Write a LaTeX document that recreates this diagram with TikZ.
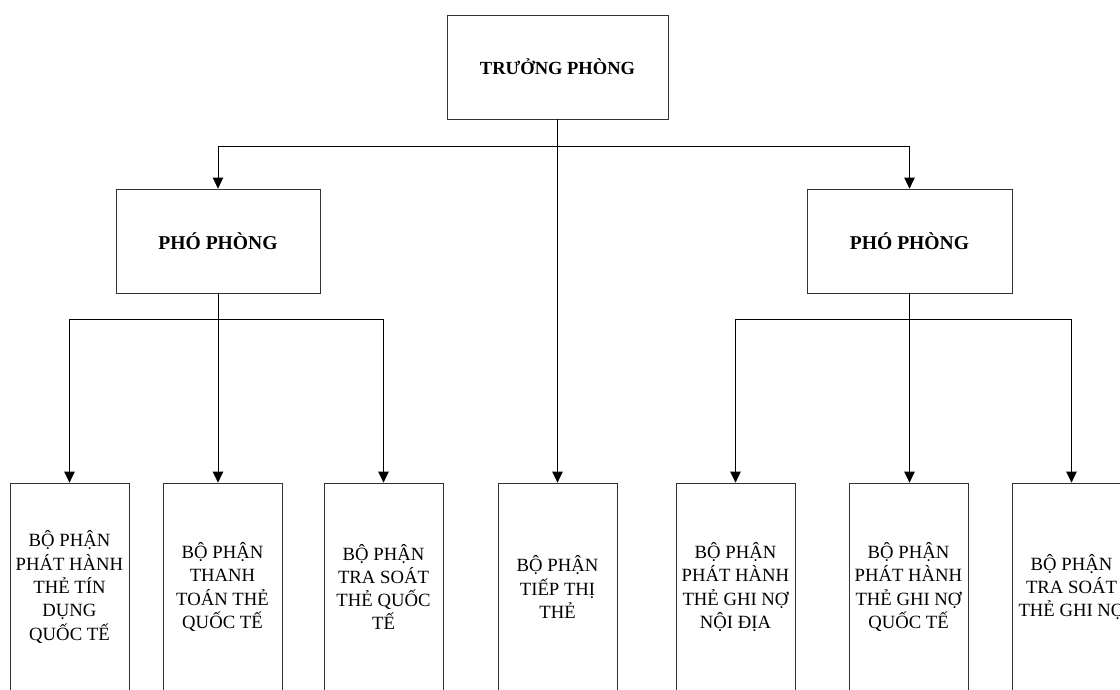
\documentclass[tikz,border=0pt]{standalone}
\usepackage{fontspec}
\setmainfont{Liberation Serif}
\usetikzlibrary{arrows.meta}
\begin{document}
\begin{tikzpicture}[x=1pt,y=-1pt,
  box/.style={draw=black!80,line width=0.8pt,fill=white,inner sep=0pt,
    align=center,font=\fontsize{18.7}{23.3}\selectfont},
  headbox/.style 2 args={box,minimum width=#1,minimum height=104,
    font=\bfseries\fontsize{#2}{22}\selectfont},
  unitbox/.style={box,minimum width=119,minimum height=208},
  link/.style={draw=black,line width=0.8pt},
  arr/.style={link,-{Triangle[length=11pt,width=10.5pt]}}]
\useasboundingbox (0,0) rectangle (1120,689);
\clip (0,0) rectangle (1120,689);

% management levels
\node[headbox={221}{18.5}] (truong) at (557.5,67) {TRƯỞNG PHÒNG};
\node[headbox={204}{19.6}] (pho1) at (218,241) {PHÓ PHÒNG};
\node[headbox={205}{19.6}] (pho2) at (909.5,241) {PHÓ PHÒNG};

% departments
\node[unitbox] (u1) at (69.5,587) {BỘ PHẬN\\PHÁT HÀNH\\THẺ TÍN\\DỤNG\\QUỐC TẾ};
\node[unitbox] (u2) at (222.5,587) {BỘ PHẬN\\THANH\\TOÁN THẺ\\QUỐC TẾ};
\node[unitbox] (u3) at (383.5,587) {BỘ PHẬN\\TRA SOÁT\\THẺ QUỐC\\TẾ};
\node[unitbox] (u4) at (557.5,587) {BỘ PHẬN\\TIẾP THỊ\\THẺ};
\node[unitbox] (u5) at (735.5,587) {BỘ PHẬN\\PHÁT HÀNH\\THẺ GHI NỢ\\NỘI ĐỊA};
\node[unitbox] (u6) at (908.5,587) {BỘ PHẬN\\PHÁT HÀNH\\THẺ GHI NỢ\\QUỐC TẾ};
\node[unitbox] (u7) at (1071.5,587) {BỘ PHẬN\\TRA SOÁT\\THẺ GHI NỢ};

% bus junctions
\coordinate (top bus) at (557.5,146);
\coordinate (left bus) at (218,319);
\coordinate (right bus) at (909.5,319);

% head of department to deputies and marketing
\draw[arr] (truong.south) -- (u4.north);
\draw[arr] (top bus) -| (pho1.north);
\draw[arr] (top bus) -| (pho2.north);

% left deputy to its departments
\draw[link] (pho1.south) -- (left bus);
\draw[arr] (left bus) -| (u1.north);
\draw[arr] (left bus) -- (left bus |- u2.north);
\draw[arr] (left bus) -| (u3.north);

% right deputy to its departments
\draw[link] (pho2.south) -- (right bus);
\draw[arr] (right bus) -| (u5.north);
\draw[arr] (right bus) -- (right bus |- u6.north);
\draw[arr] (right bus) -| (u7.north);
\end{tikzpicture}
\end{document}
